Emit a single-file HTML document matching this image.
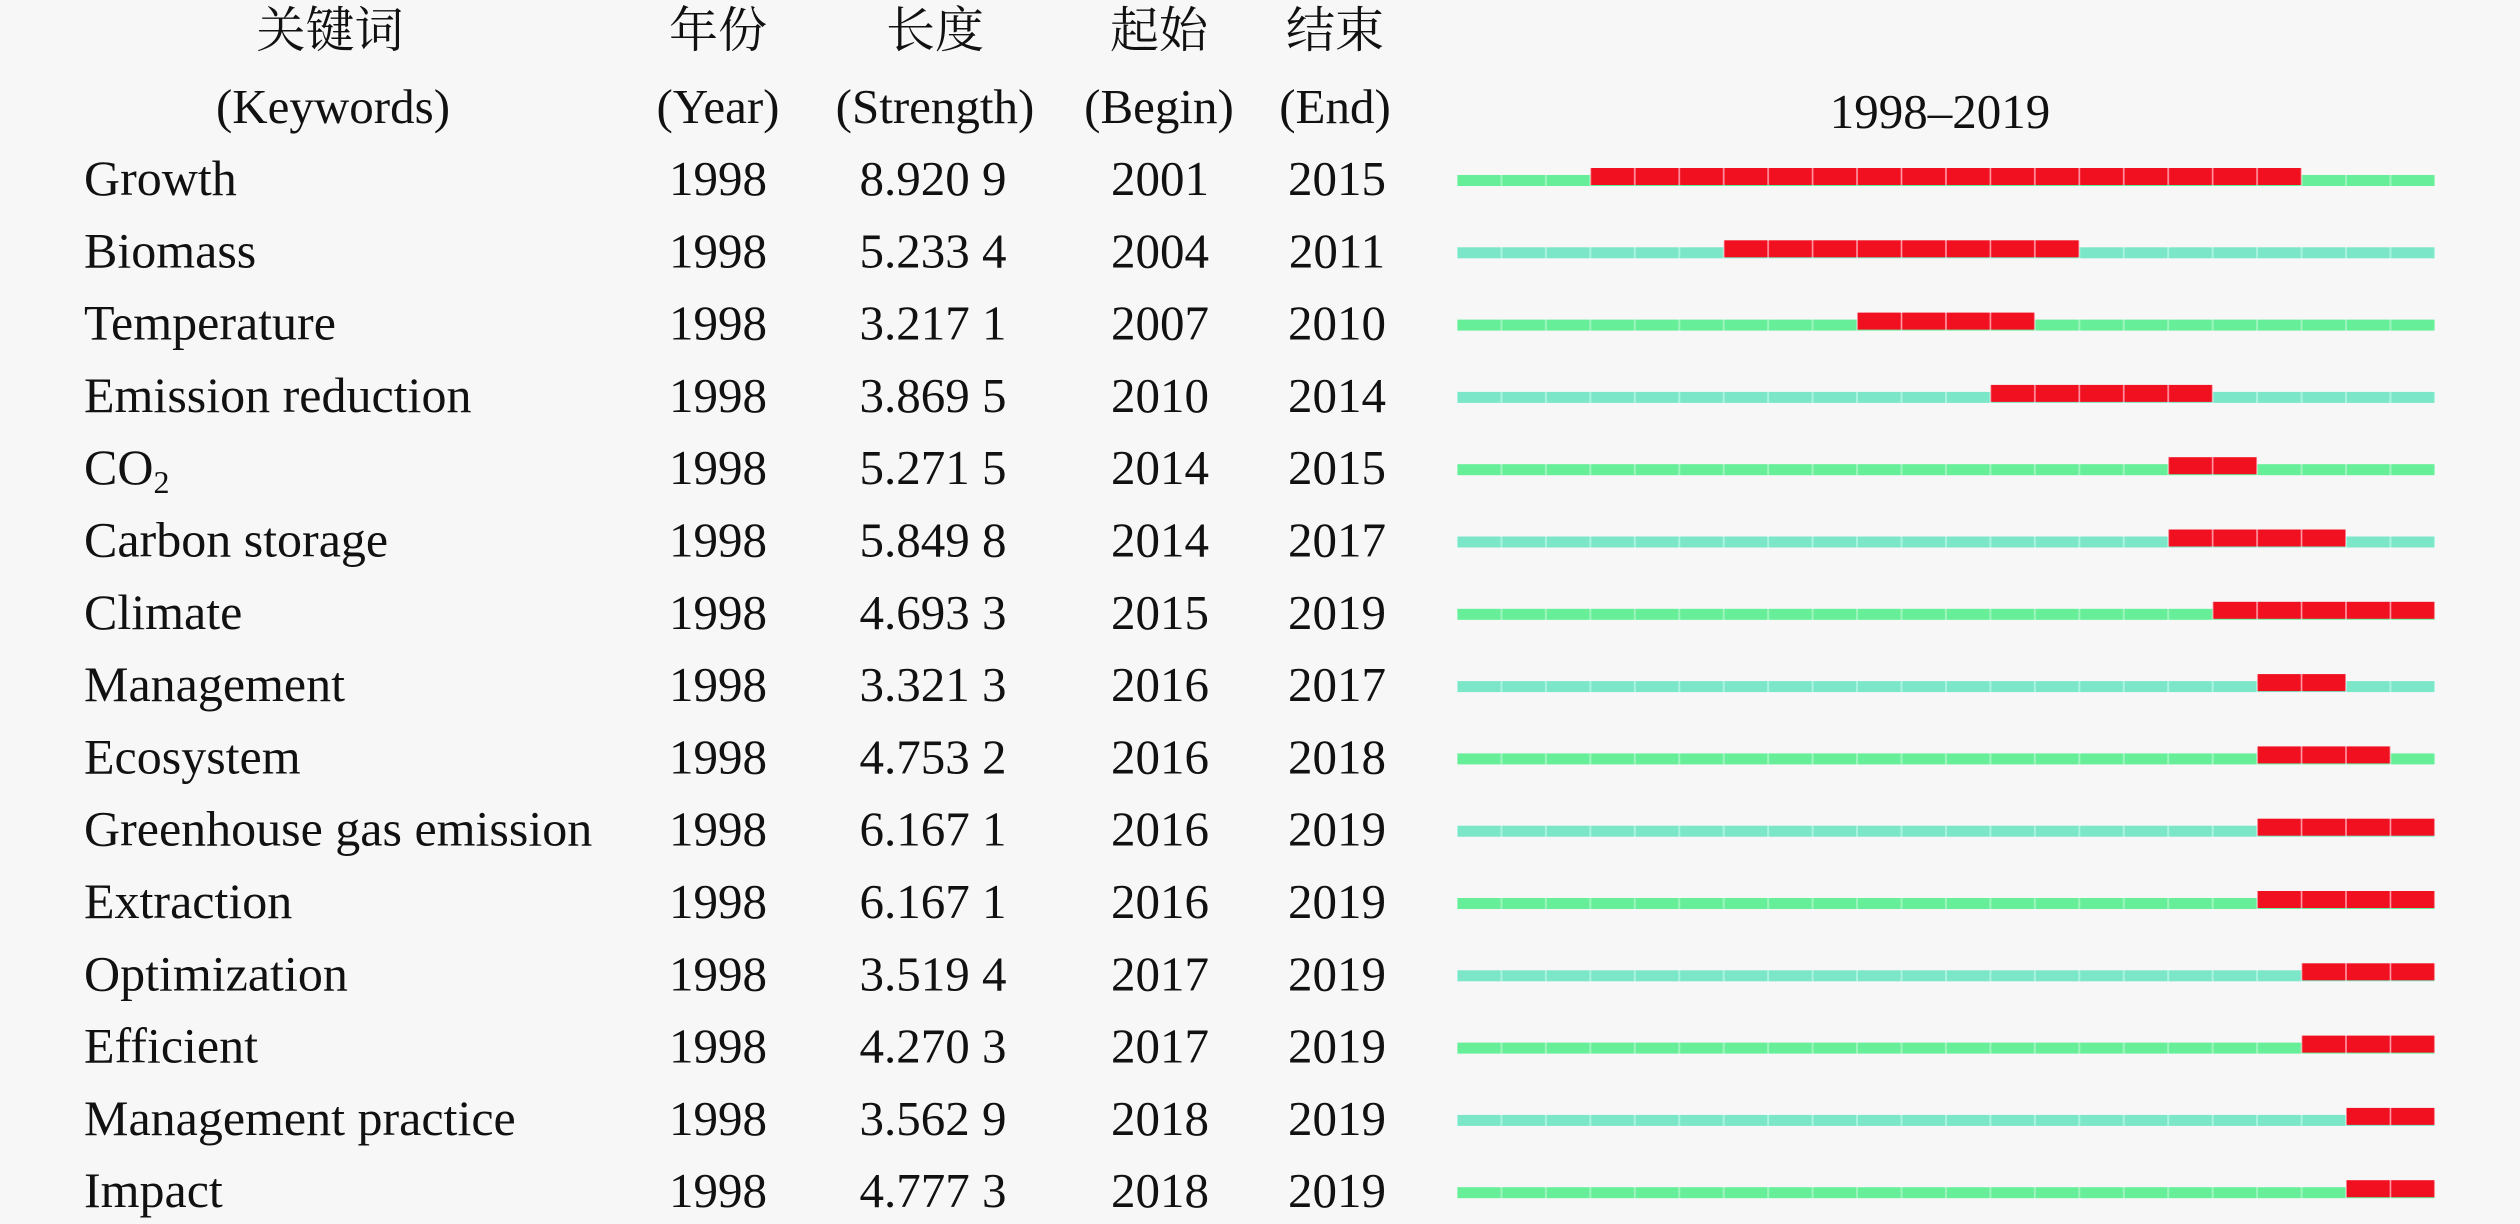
<!DOCTYPE html>
<html>
<head>
<meta charset="utf-8">
<style>
html,body{margin:0;padding:0;background:#f7f7f7;}
svg{display:block;}
text{font-family:"Liberation Serif","Noto Serif CJK SC","Noto Sans CJK SC",serif;fill:#111;font-size:49px;}
text.kw{font-size:50px;}
</style>
</head>
<body>
<svg width="2520" height="1224" viewBox="0 0 2520 1224" xmlns="http://www.w3.org/2000/svg">
<defs>
<pattern id="pg" patternUnits="userSpaceOnUse" x="1457" y="0" width="44.45" height="1224">
<rect x="0" y="0" width="44.45" height="1224" fill="#66ef98"/>
<rect x="0" y="0" width="1" height="1224" fill="#9cf5bc"/>
<rect x="43.45" y="0" width="1" height="1224" fill="#9cf5bc"/>
</pattern>
<pattern id="pc" patternUnits="userSpaceOnUse" x="1457" y="0" width="44.45" height="1224">
<rect x="0" y="0" width="44.45" height="1224" fill="#7be6c8"/>
<rect x="0" y="0" width="1" height="1224" fill="#a8f4e0"/>
<rect x="43.45" y="0" width="1" height="1224" fill="#a8f4e0"/>
</pattern>
<pattern id="pr" patternUnits="userSpaceOnUse" x="1457" y="0" width="44.45" height="1224">
<rect x="0" y="0" width="44.45" height="1224" fill="#f01020"/>
<rect x="0" y="0" width="0.8" height="1224" fill="#ff9aa8"/>
<rect x="43.65" y="0" width="0.8" height="1224" fill="#ff9aa8"/>
</pattern>
</defs>
<rect x="0" y="0" width="2520" height="1224" fill="#f7f7f7"/>
<g text-anchor="middle">
<text x="330" y="47">关键词</text>
<text x="718" y="47">年份</text>
<text x="935" y="47">长度</text>
<text x="1159" y="47">起始</text>
<text x="1335" y="47">结束</text>
<text x="333" y="123">(Keywords)</text>
<text x="718" y="123">(Year)</text>
<text x="935" y="123">(Strength)</text>
<text x="1159" y="123">(Begin)</text>
<text x="1335" y="123">(End)</text>
<text x="1940" y="128">1998–2019</text>
</g>

<g transform="translate(0,195)">
<text class="kw" x="84" y="0">Growth</text>
<text x="718" y="0" text-anchor="middle">1998</text>
<text x="933" y="0" text-anchor="middle">8.920 9</text>
<text x="1160" y="0" text-anchor="middle">2001</text>
<text x="1337" y="0" text-anchor="middle">2015</text>
<rect x="1457" y="-20" width="977.9" height="11" fill="url(#pg)"/>
<rect x="1590.35" y="-27" width="711.2" height="17" fill="url(#pr)"/>
</g>

<g transform="translate(0,267.3)">
<text class="kw" x="84" y="0">Biomass</text>
<text x="718" y="0" text-anchor="middle">1998</text>
<text x="933" y="0" text-anchor="middle">5.233 4</text>
<text x="1160" y="0" text-anchor="middle">2004</text>
<text x="1337" y="0" text-anchor="middle">2011</text>
<rect x="1457" y="-20" width="977.9" height="11" fill="url(#pc)"/>
<rect x="1723.7" y="-27" width="355.6" height="17" fill="url(#pr)"/>
</g>

<g transform="translate(0,339.6)">
<text class="kw" x="84" y="0">Temperature</text>
<text x="718" y="0" text-anchor="middle">1998</text>
<text x="933" y="0" text-anchor="middle">3.217 1</text>
<text x="1160" y="0" text-anchor="middle">2007</text>
<text x="1337" y="0" text-anchor="middle">2010</text>
<rect x="1457" y="-20" width="977.9" height="11" fill="url(#pg)"/>
<rect x="1857.05" y="-27" width="177.8" height="17" fill="url(#pr)"/>
</g>

<g transform="translate(0,411.9)">
<text class="kw" x="84" y="0">Emission reduction</text>
<text x="718" y="0" text-anchor="middle">1998</text>
<text x="933" y="0" text-anchor="middle">3.869 5</text>
<text x="1160" y="0" text-anchor="middle">2010</text>
<text x="1337" y="0" text-anchor="middle">2014</text>
<rect x="1457" y="-20" width="977.9" height="11" fill="url(#pc)"/>
<rect x="1990.4" y="-27" width="222.25" height="17" fill="url(#pr)"/>
</g>

<g transform="translate(0,484.2)">
<text class="kw" x="84" y="0">CO<tspan font-size="32" dy="9">2</tspan></text>
<text x="718" y="0" text-anchor="middle">1998</text>
<text x="933" y="0" text-anchor="middle">5.271 5</text>
<text x="1160" y="0" text-anchor="middle">2014</text>
<text x="1337" y="0" text-anchor="middle">2015</text>
<rect x="1457" y="-20" width="977.9" height="11" fill="url(#pg)"/>
<rect x="2168.2" y="-27" width="88.9" height="17" fill="url(#pr)"/>
</g>

<g transform="translate(0,556.5)">
<text class="kw" x="84" y="0">Carbon storage</text>
<text x="718" y="0" text-anchor="middle">1998</text>
<text x="933" y="0" text-anchor="middle">5.849 8</text>
<text x="1160" y="0" text-anchor="middle">2014</text>
<text x="1337" y="0" text-anchor="middle">2017</text>
<rect x="1457" y="-20" width="977.9" height="11" fill="url(#pc)"/>
<rect x="2168.2" y="-27" width="177.8" height="17" fill="url(#pr)"/>
</g>

<g transform="translate(0,628.8)">
<text class="kw" x="84" y="0">Climate</text>
<text x="718" y="0" text-anchor="middle">1998</text>
<text x="933" y="0" text-anchor="middle">4.693 3</text>
<text x="1160" y="0" text-anchor="middle">2015</text>
<text x="1337" y="0" text-anchor="middle">2019</text>
<rect x="1457" y="-20" width="977.9" height="11" fill="url(#pg)"/>
<rect x="2212.65" y="-27" width="222.25" height="17" fill="url(#pr)"/>
</g>

<g transform="translate(0,701.1)">
<text class="kw" x="84" y="0">Management</text>
<text x="718" y="0" text-anchor="middle">1998</text>
<text x="933" y="0" text-anchor="middle">3.321 3</text>
<text x="1160" y="0" text-anchor="middle">2016</text>
<text x="1337" y="0" text-anchor="middle">2017</text>
<rect x="1457" y="-20" width="977.9" height="11" fill="url(#pc)"/>
<rect x="2257.1" y="-27" width="88.9" height="17" fill="url(#pr)"/>
</g>

<g transform="translate(0,773.4)">
<text class="kw" x="84" y="0">Ecosystem</text>
<text x="718" y="0" text-anchor="middle">1998</text>
<text x="933" y="0" text-anchor="middle">4.753 2</text>
<text x="1160" y="0" text-anchor="middle">2016</text>
<text x="1337" y="0" text-anchor="middle">2018</text>
<rect x="1457" y="-20" width="977.9" height="11" fill="url(#pg)"/>
<rect x="2257.1" y="-27" width="133.35" height="17" fill="url(#pr)"/>
</g>

<g transform="translate(0,845.7)">
<text class="kw" x="84" y="0">Greenhouse gas emission</text>
<text x="718" y="0" text-anchor="middle">1998</text>
<text x="933" y="0" text-anchor="middle">6.167 1</text>
<text x="1160" y="0" text-anchor="middle">2016</text>
<text x="1337" y="0" text-anchor="middle">2019</text>
<rect x="1457" y="-20" width="977.9" height="11" fill="url(#pc)"/>
<rect x="2257.1" y="-27" width="177.8" height="17" fill="url(#pr)"/>
</g>

<g transform="translate(0,918)">
<text class="kw" x="84" y="0">Extraction</text>
<text x="718" y="0" text-anchor="middle">1998</text>
<text x="933" y="0" text-anchor="middle">6.167 1</text>
<text x="1160" y="0" text-anchor="middle">2016</text>
<text x="1337" y="0" text-anchor="middle">2019</text>
<rect x="1457" y="-20" width="977.9" height="11" fill="url(#pg)"/>
<rect x="2257.1" y="-27" width="177.8" height="17" fill="url(#pr)"/>
</g>

<g transform="translate(0,990.3)">
<text class="kw" x="84" y="0">Optimization</text>
<text x="718" y="0" text-anchor="middle">1998</text>
<text x="933" y="0" text-anchor="middle">3.519 4</text>
<text x="1160" y="0" text-anchor="middle">2017</text>
<text x="1337" y="0" text-anchor="middle">2019</text>
<rect x="1457" y="-20" width="977.9" height="11" fill="url(#pc)"/>
<rect x="2301.55" y="-27" width="133.35" height="17" fill="url(#pr)"/>
</g>

<g transform="translate(0,1062.6)">
<text class="kw" x="84" y="0">Efficient</text>
<text x="718" y="0" text-anchor="middle">1998</text>
<text x="933" y="0" text-anchor="middle">4.270 3</text>
<text x="1160" y="0" text-anchor="middle">2017</text>
<text x="1337" y="0" text-anchor="middle">2019</text>
<rect x="1457" y="-20" width="977.9" height="11" fill="url(#pg)"/>
<rect x="2301.55" y="-27" width="133.35" height="17" fill="url(#pr)"/>
</g>

<g transform="translate(0,1134.9)">
<text class="kw" x="84" y="0">Management practice</text>
<text x="718" y="0" text-anchor="middle">1998</text>
<text x="933" y="0" text-anchor="middle">3.562 9</text>
<text x="1160" y="0" text-anchor="middle">2018</text>
<text x="1337" y="0" text-anchor="middle">2019</text>
<rect x="1457" y="-20" width="977.9" height="11" fill="url(#pc)"/>
<rect x="2346" y="-27" width="88.9" height="17" fill="url(#pr)"/>
</g>

<g transform="translate(0,1207.2)">
<text class="kw" x="84" y="0">Impact</text>
<text x="718" y="0" text-anchor="middle">1998</text>
<text x="933" y="0" text-anchor="middle">4.777 3</text>
<text x="1160" y="0" text-anchor="middle">2018</text>
<text x="1337" y="0" text-anchor="middle">2019</text>
<rect x="1457" y="-20" width="977.9" height="11" fill="url(#pg)"/>
<rect x="2346" y="-27" width="88.9" height="17" fill="url(#pr)"/>
</g>
</svg>
</body>
</html>
